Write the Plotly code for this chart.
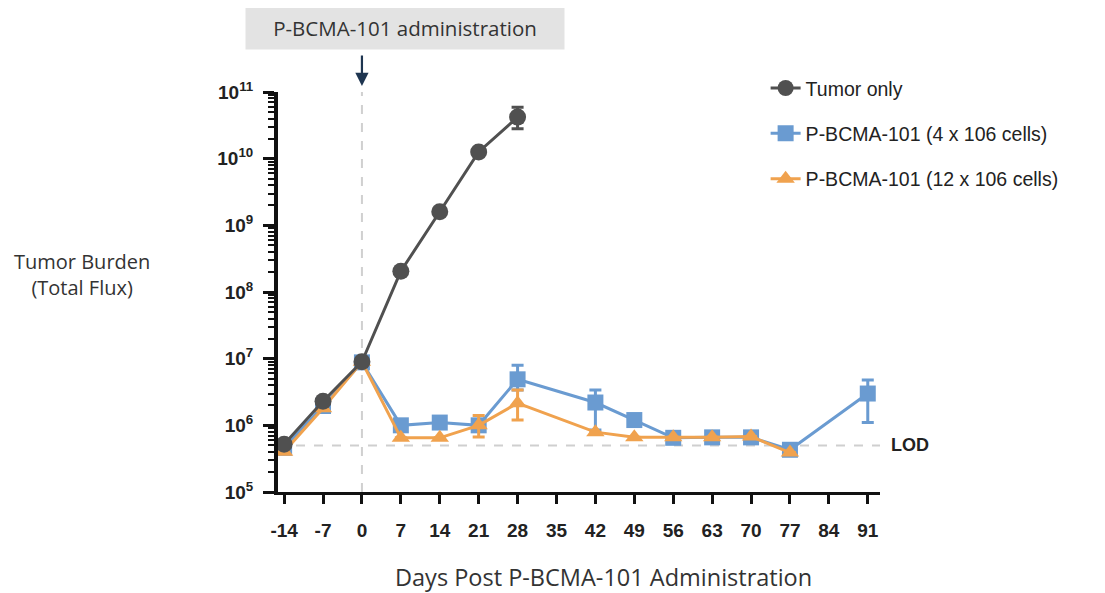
import plotly.graph_objects as go

days_tumor = [-14, -7, 0, 7, 14, 21, 28]
tumor_only = [5.2e5, 2.3e6, 9.0e6, 2.05e8, 1.6e9, 1.26e10, 4.2e10]
tumor_err_hi = [0, 2e5, 0, 0, 0, 0, 1.7e10]
tumor_err_lo = [0, 2e5, 0, 0, 0, 0, 1.4e10]

days_low = [-14, -7, 0, 7, 14, 21, 28, 42, 49, 56, 63, 70, 77, 91]
low_dose = [4.6e5, 1.95e6, 8.8e6, 1.0e6, 1.1e6, 1.0e6, 4.9e6, 2.2e6, 1.2e6, 6.5e5, 6.6e5, 6.6e5, 4.3e5, 3.0e6]
low_err_hi = [0, 2e5, 0, 1e5, 1e5, 1e5, 3.1e6, 1.2e6, 2e5, 0, 0, 0, 0, 1.8e6]
low_err_lo = [0, 2e5, 0, 1e5, 1e5, 1e5, 1.5e6, 1.35e6, 2e5, 0, 0, 0, 0, 1.9e6]

days_high = [-14, -7, 0, 7, 14, 21, 28, 42, 49, 56, 63, 70, 77]
high_dose = [4.0e5, 1.8e6, 9.0e6, 6.5e5, 6.5e5, 1.0e6, 2.15e6, 7.9e5, 6.6e5, 6.6e5, 6.6e5, 6.8e5, 3.9e5]
high_err_hi = [0, 1e5, 0, 0, 0, 4e5, 1.25e6, 0, 0, 0, 0, 0, 0]
high_err_lo = [0, 1e5, 0, 0, 0, 3.3e5, 0.95e6, 0, 0, 0, 0, 0, 0]

x_ticks = [-14, -7, 0, 7, 14, 21, 28, 35, 42, 49, 56, 63, 70, 77, 84, 91]
y_ticks = [1e5, 1e6, 1e7, 1e8, 1e9, 1e10, 1e11]
y_tick_text = ["10<sup>5</sup>", "10<sup>6</sup>", "10<sup>7</sup>", "10<sup>8</sup>",
               "10<sup>9</sup>", "10<sup>10</sup>", "10<sup>11</sup>"]
y_minor_ticks = [m * d for d in y_ticks[:-1] for m in range(2, 10)]
lod_value = 5e5
x_range = [-15.1, 93.2]

GRAY = "#505050"
BLUE = "#6a9bd1"
ORANGE = "#f0a24e"

fig = go.Figure()

fig.add_trace(go.Scatter(
    x=x_range, y=[lod_value, lod_value], mode="lines",
    line=dict(color="#cfcfcf", width=2, dash="dash"),
    showlegend=False, hoverinfo="skip"))

fig.add_trace(go.Scatter(
    x=days_low, y=low_dose, mode="lines+markers",
    name="P-BCMA-101 (4 x 106 cells)",
    line=dict(color=BLUE, width=3),
    marker=dict(symbol="square", size=16, color=BLUE),
    error_y=dict(type="data", symmetric=False, array=low_err_hi, arrayminus=low_err_lo,
                 color=BLUE, thickness=3, width=6),
    legendgroup="b", legendrank=2))

fig.add_trace(go.Scatter(
    x=days_high, y=high_dose, mode="lines+markers",
    name="P-BCMA-101 (12 x 106 cells)",
    line=dict(color=ORANGE, width=3),
    marker=dict(symbol="triangle-up", size=16, color=ORANGE),
    error_y=dict(type="data", symmetric=False, array=high_err_hi, arrayminus=high_err_lo,
                 color=ORANGE, thickness=3, width=6),
    legendgroup="c", legendrank=3))

fig.add_trace(go.Scatter(
    x=days_tumor, y=tumor_only, mode="lines+markers",
    name="Tumor only",
    line=dict(color=GRAY, width=3),
    marker=dict(symbol="circle", size=17, color=GRAY),
    error_y=dict(type="data", symmetric=False, array=tumor_err_hi, arrayminus=tumor_err_lo,
                 color=GRAY, thickness=3, width=6),
    legendgroup="a", legendrank=1))

fig.add_shape(type="line", xref="x", yref="paper", x0=0, x1=0, y0=0, y1=1.0,
              line=dict(color="#d0d0d0", width=2, dash="dash"), layer="below")

fig.update_layout(
    width=1105, height=593,
    margin=dict(l=270, r=233, t=84, b=109),
    paper_bgcolor="white", plot_bgcolor="white",
    font=dict(family="Liberation Sans, Arial", color="#222"),
    xaxis=dict(
        range=x_range, tickvals=x_ticks, ticktext=[str(v) for v in x_ticks],
        showgrid=False, zeroline=False, showline=True, linecolor="#111", linewidth=3,
        ticks="outside", ticklen=9, tickwidth=3, tickcolor="#111",
        tickfont=dict(size=19, family="Liberation Sans, Arial", weight="bold", color="#222"),
        ticklabelstandoff=10),
    yaxis=dict(
        type="log", range=[5, 11], tickvals=y_ticks, ticktext=y_tick_text,
        showgrid=False, zeroline=False, showline=True, linecolor="#111", linewidth=4,
        ticks="outside", ticklen=11, tickwidth=3, tickcolor="#111",
        tickfont=dict(size=19, family="Liberation Sans, Arial", weight="bold", color="#222"),
        ticklabelstandoff=6,
        minor=dict(ticks="outside", ticklen=6, tickwidth=2, tickcolor="#111",
                   tickmode="array", tickvals=y_minor_ticks, showgrid=False)),
    legend=dict(
        x=0.81, y=1.058, xanchor="left", yanchor="top",
        font=dict(size=19.5, family="Liberation Sans, Arial", color="#222"),
        traceorder="grouped", tracegroupgap=17, bgcolor="rgba(0,0,0,0)",
        itemwidth=30),
    showlegend=True,
)

fig.add_annotation(xref="paper", yref="y", x=1.015, y=5.699, text="<b>LOD</b>",
                   showarrow=False, xanchor="left", yanchor="middle",
                   font=dict(size=18, family="Liberation Sans, Arial", color="#222"))

fig.add_annotation(xref="x", yref="paper", x=0, y=1.015, text="", showarrow=True,
                   ax=0, ay=-32, arrowhead=2, arrowsize=1.2, arrowwidth=2.2, arrowcolor="#1e3550")

fig.add_annotation(xref="paper", yref="paper", x=0.211, y=1.16, text="P-BCMA-101 administration",
                   showarrow=False, bgcolor="#e3e3e3", width=316, height=40,
                   xanchor="center", yanchor="middle",
                   font=dict(size=20.5, family="Open Sans, Liberation Sans", color="#333"))

fig.add_annotation(xref="paper", yref="paper", x=-0.325, y=0.545,
                   text="Tumor Burden<br>(Total Flux)", showarrow=False,
                   xanchor="center", yanchor="middle", align="center",
                   font=dict(size=20, family="Open Sans, Liberation Sans", color="#333"))

fig.add_annotation(xref="paper", yref="paper", x=0.5415, y=-0.2125,
                   text="Days Post P-BCMA-101 Administration", showarrow=False,
                   xanchor="center", yanchor="middle",
                   font=dict(size=23.5, family="Open Sans, Liberation Sans", color="#333"))

fig.write_html("out.html")
